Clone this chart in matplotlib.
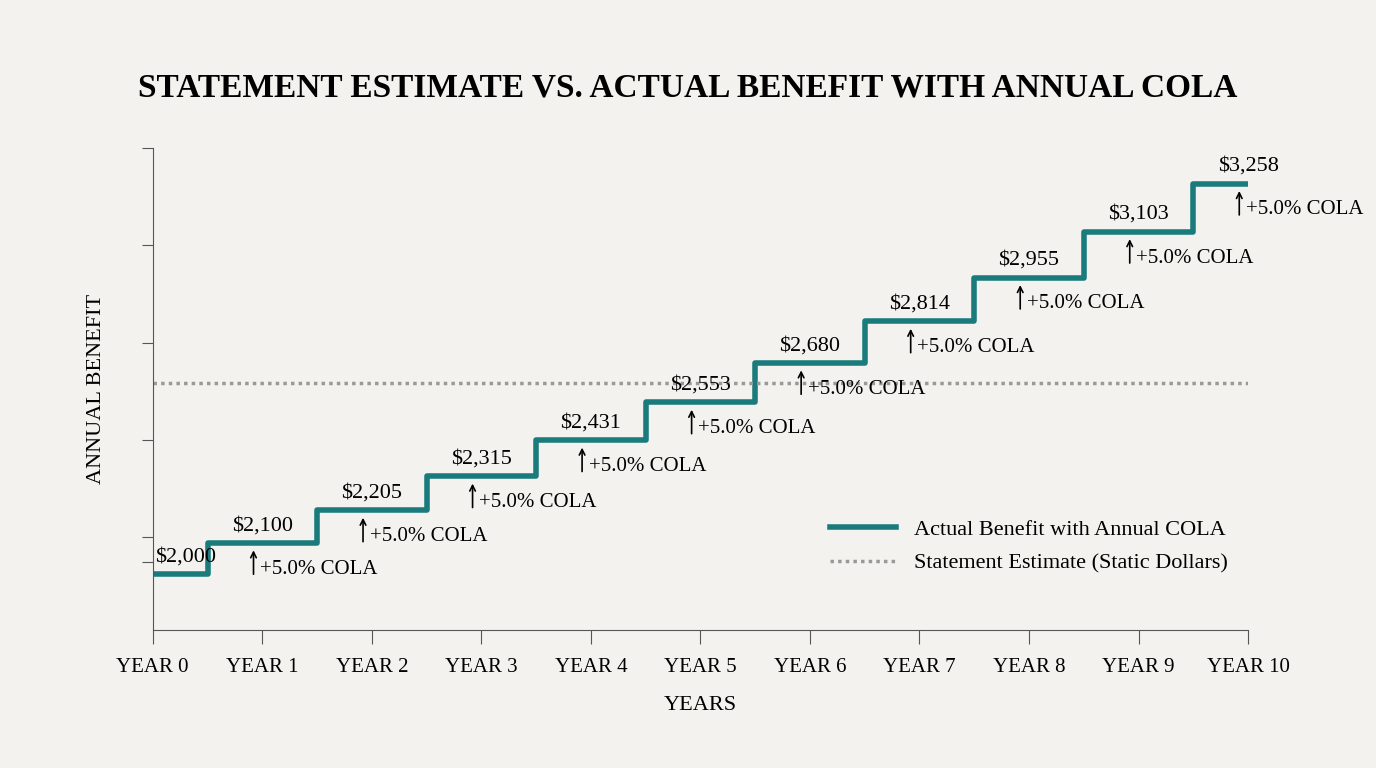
import numpy as np
import matplotlib.pyplot as plt

years = np.arange(0, 11)
year_labels = ["YEAR %d" % y for y in years]
benefit = [2000, 2100, 2205, 2315, 2431, 2553, 2680, 2814, 2955, 3103, 3258]
estimate = 2615
cola_label = "+5.0% COLA"

bg = "#f3f2ee"
teal = "#1b7b7c"
plt.rcParams['font.family'] = ['Liberation Serif', 'DejaVu Serif']

fig = plt.figure(figsize=(13.76, 7.68), dpi=100, facecolor=bg)
ax = fig.add_axes([0.111, 0.18, 0.796, 0.627], facecolor=bg)

ax.step(years, benefit, where='mid', color=teal, lw=4, label="Actual Benefit with Annual COLA")
ax.axhline(estimate, color="#999999", lw=2.5, ls=(0, (1, 1.2)), label="Statement Estimate (Static Dollars)")

ax.set_xlim(0, 10)
ax.set_ylim(1820, 3372)
ax.set_yticks(np.linspace(2118, 3372, 5).tolist() + [2118 - 313.5 / 4 * 1])
ax.set_yticklabels([])
ax.set_xticks(years)
ax.set_xticklabels(year_labels, fontsize=15)
ax.tick_params(axis='x', length=10, color="#555555", pad=10)
ax.tick_params(axis='y', length=8, color="#555555")
for s in ['top', 'right']:
    ax.spines[s].set_visible(False)
for s in ['left', 'bottom']:
    ax.spines[s].set_color("#555555")

# value labels
for i, v in enumerate(benefit):
    xl = 0.3 if i == 0 else i
    ax.text(xl, v + 25, "$%s" % format(v, ","), ha='center', va='bottom', fontsize=16)

# COLA arrows under each new level
for i in range(1, 11):
    v = benefit[i]
    ax.annotate("", xy=(i - 0.08, v - 15), xytext=(i - 0.08, v - 110),
                arrowprops=dict(arrowstyle="->", color="black", lw=1.2))
    ax.text(i - 0.02, v - 85, cola_label, ha='left', va='center', fontsize=15)

ax.set_xlabel("YEARS", fontsize=16, labelpad=14)
ax.set_ylabel("ANNUAL BENEFIT", fontsize=16, labelpad=22)
fig.suptitle("STATEMENT ESTIMATE VS. ACTUAL BENEFIT WITH ANNUAL COLA", fontsize=24,
             fontweight='semibold', y=0.905)

ax.legend(loc='lower right', bbox_to_anchor=(1.0, 0.075), frameon=False, fontsize=16,
          handlelength=3, labelspacing=0.6)

fig.savefig("out.png", dpi=100, facecolor=bg)
